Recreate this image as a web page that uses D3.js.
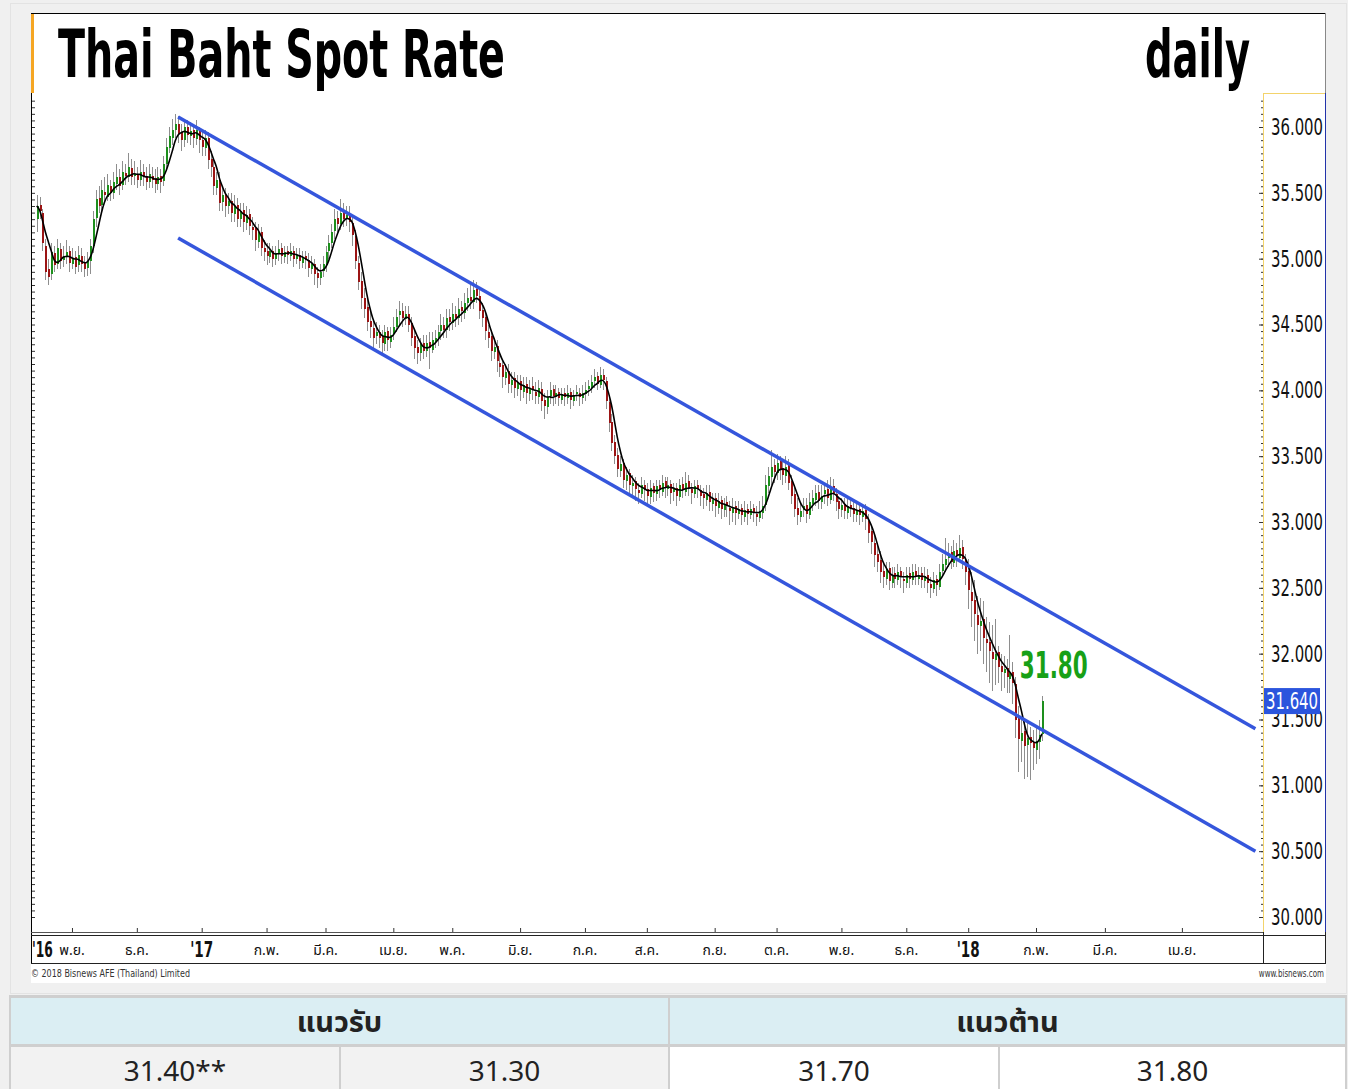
<!DOCTYPE html>
<html>
<head>
<meta charset="utf-8">
<script src="https://cdn.jsdelivr.net/npm/d3@7"></script>
<style>
  body { margin: 0; background: #f0f0f0; }
  svg { display: block; }
</style>
</head>
<body>
<svg id="chart"></svg>
<script>
// ---- data ----
const firstDay = "2016-10-14";   // first trading day shown
const lastCalendarDay = "2018-06-29";

// daily USD/THB candles, one value per trading day from firstDay
const close = [
  35.40,35.36,35.12,34.90,34.86,35.05,34.95,35.08,34.98,35.02,35.05,34.97,
  35.00,34.94,35.03,34.96,34.92,34.98,
  35.10,35.30,35.45,35.40,35.52,35.48,35.56,35.50,
  35.58,35.62,35.55,35.66,35.63,35.70,35.62,35.64,35.60,35.66,
  35.62,35.58,35.64,35.60,35.57,35.62,35.58,35.72,35.85,35.93,
  35.98,36.02,35.95,35.90,36.00,35.94,35.97,35.92,35.98,35.90,
  35.85,35.92,35.75,35.70,35.55,35.60,35.42,35.48,35.40,35.44,
  35.35,35.40,35.30,35.36,35.28,35.33,35.25,35.22,35.14,35.20,
  35.08,35.05,35.02,35.06,35.00,35.04,35.07,35.02,35.05,35.03,
  35.06,35.00,35.03,34.98,35.01,34.99,34.93,34.96,34.88,34.85,
  34.90,34.96,35.05,35.12,35.20,35.30,35.26,35.35,35.30,35.33,
  35.28,35.18,34.98,34.82,34.70,34.62,34.52,34.48,34.40,34.44,
  34.40,34.36,34.44,34.38,34.42,34.48,34.56,34.60,34.55,34.58,
  34.50,34.40,34.32,34.28,34.35,34.30,34.36,34.32,34.38,34.40,
  34.44,34.50,34.46,34.55,34.52,34.58,34.55,34.62,34.60,34.66,
  34.70,34.68,34.76,34.72,34.60,34.55,34.45,34.40,34.30,34.33,
  34.22,34.18,34.10,34.14,34.05,34.08,34.02,34.06,34.00,34.04,
  33.98,34.02,34.00,33.96,34.02,33.92,33.88,33.95,34.00,33.96,
  33.98,33.94,33.97,33.95,33.98,33.93,33.96,33.99,33.95,33.98,
  34.00,34.03,34.06,34.10,34.05,34.12,34.08,33.92,33.75,33.60,
  33.50,33.40,33.44,33.32,33.36,33.28,33.30,33.25,33.22,33.28,
  33.24,33.20,33.26,33.22,33.27,33.24,33.30,33.26,33.28,33.22,
  33.25,33.20,33.28,33.24,33.30,33.26,33.22,33.27,33.25,33.20,
  33.18,33.22,33.15,33.17,33.12,33.16,33.10,33.14,33.12,33.08,
  33.11,33.07,33.10,33.05,33.09,33.06,33.10,33.07,33.04,33.08,
  33.12,33.28,33.35,33.42,33.38,33.45,33.40,33.36,33.42,33.30,
  33.20,33.10,33.05,33.08,33.12,33.06,33.15,33.18,33.22,33.16,
  33.20,33.24,33.18,33.26,33.22,33.15,33.10,33.13,33.08,33.12,
  33.10,33.06,33.09,33.05,33.08,33.02,32.92,32.85,32.75,32.70,
  32.62,32.58,32.64,32.55,32.60,32.57,32.62,32.58,32.55,32.60,
  32.57,32.62,32.58,32.60,32.56,32.59,32.54,32.50,32.56,32.52,
  32.62,32.68,32.72,32.76,32.70,32.78,32.74,32.80,32.72,32.62,
  32.48,32.40,32.30,32.22,32.25,32.12,32.08,32.02,31.96,32.00,
  31.90,31.86,31.88,31.82,31.85,31.78,31.50,31.35,31.40,31.30,
  31.36,31.32,31.28,31.34,31.38,31.64
];
const open = [
  35.30,35.41,35.35,35.10,34.92,34.88,35.04,34.96,35.07,34.99,35.01,35.06,
  34.96,35.01,34.95,35.02,34.97,34.93,
  34.98,35.10,35.31,35.46,35.41,35.51,35.47,35.55,
  35.50,35.57,35.62,35.56,35.65,35.62,35.69,35.63,35.64,35.60,
  35.66,35.63,35.58,35.63,35.61,35.57,35.63,35.59,35.72,35.84,
  35.92,35.98,36.02,35.96,35.90,36.00,35.93,35.98,35.91,35.97,
  35.90,35.84,35.92,35.76,35.70,35.54,35.60,35.43,35.48,35.40,
  35.44,35.34,35.41,35.30,35.37,35.27,35.34,35.24,35.23,35.13,
  35.20,35.08,35.06,35.01,35.06,35.00,35.04,35.08,35.01,35.06,
  35.02,35.06,35.00,35.03,34.97,35.02,34.99,34.92,34.96,34.89,
  34.85,34.91,34.95,35.06,35.12,35.21,35.31,35.26,35.36,35.30,
  35.34,35.27,35.17,34.97,34.83,34.70,34.63,34.53,34.47,34.41,
  34.44,34.41,34.35,34.45,34.37,34.43,34.48,34.57,34.60,34.54,
  34.58,34.51,34.41,34.33,34.28,34.36,34.30,34.37,34.31,34.37,
  34.40,34.45,34.50,34.46,34.56,34.51,34.58,34.55,34.63,34.59,
  34.66,34.71,34.67,34.77,34.72,34.61,34.56,34.44,34.41,34.29,
  34.34,34.21,34.19,34.09,34.15,34.04,34.09,34.01,34.07,33.99,
  34.05,33.97,34.03,33.99,33.95,34.01,33.93,33.87,33.96,34.01,
  33.95,33.99,33.93,33.98,33.94,33.99,33.92,33.97,33.98,33.94,
  33.97,34.01,34.02,34.07,34.11,34.04,34.12,34.07,33.91,33.76,
  33.61,33.51,33.39,33.45,33.31,33.37,33.27,33.31,33.24,33.21,
  33.28,33.25,33.19,33.27,33.21,33.28,33.23,33.31,33.25,33.29,
  33.23,33.26,33.19,33.29,33.23,33.31,33.25,33.21,33.28,33.24,
  33.21,33.17,33.23,33.14,33.18,33.11,33.17,33.09,33.15,33.11,
  33.07,33.12,33.06,33.11,33.04,33.10,33.05,33.11,33.06,33.03,
  33.07,33.13,33.27,33.34,33.43,33.37,33.46,33.41,33.35,33.43,
  33.31,33.21,33.11,33.04,33.09,33.13,33.05,33.14,33.17,33.23,
  33.15,33.21,33.25,33.17,33.27,33.21,33.16,33.09,33.14,33.07,
  33.13,33.11,33.05,33.10,33.04,33.09,33.01,32.93,32.84,32.76,
  32.71,32.63,32.57,32.65,32.54,32.61,32.56,32.63,32.57,32.54,
  32.61,32.56,32.63,32.57,32.61,32.55,32.60,32.53,32.49,32.57,
  32.51,32.63,32.67,32.73,32.77,32.69,32.79,32.73,32.81,32.71,
  32.63,32.47,32.41,32.29,32.21,32.26,32.11,32.09,32.01,31.95,
  32.01,31.91,31.85,31.89,31.81,31.86,31.77,31.51,31.34,31.41,
  31.31,31.37,31.33,31.27,31.33,31.39
];
const high = [
  35.48,35.47,35.38,35.15,35.00,35.12,35.10,35.15,35.12,35.10,35.14,35.10,
  35.08,35.06,35.10,35.08,35.02,35.05,
  35.15,35.36,35.52,35.55,35.60,35.62,35.64,35.60,
  35.66,35.72,35.68,35.74,35.72,35.80,35.76,35.74,35.70,35.75,
  35.72,35.70,35.72,35.70,35.68,35.70,35.68,35.78,35.92,36.00,
  36.06,36.10,36.08,36.02,36.06,36.05,36.04,36.02,36.05,36.00,
  35.96,35.98,35.96,35.82,35.76,35.66,35.66,35.55,35.54,35.50,
  35.50,35.48,35.46,35.42,35.42,35.40,35.38,35.32,35.28,35.26,
  35.24,35.14,35.12,35.12,35.10,35.10,35.14,35.12,35.10,35.10,
  35.12,35.10,35.08,35.08,35.06,35.06,35.04,35.02,35.00,34.94,
  34.96,35.02,35.10,35.18,35.26,35.38,35.36,35.45,35.42,35.40,
  35.40,35.32,35.22,35.02,34.90,34.78,34.70,34.60,34.54,34.52,
  34.50,34.46,34.50,34.48,34.48,34.56,34.62,34.68,34.66,34.64,
  34.64,34.56,34.46,34.38,34.40,34.42,34.42,34.44,34.44,34.46,
  34.50,34.58,34.56,34.62,34.62,34.66,34.64,34.70,34.68,34.74,
  34.78,34.80,34.84,34.82,34.76,34.66,34.60,34.50,34.46,34.40,
  34.38,34.28,34.24,34.20,34.20,34.14,34.14,34.12,34.12,34.10,
  34.10,34.08,34.10,34.06,34.08,34.06,33.98,34.00,34.06,34.04,
  34.04,34.02,34.02,34.02,34.04,34.02,34.00,34.04,34.02,34.04,
  34.06,34.08,34.12,34.16,34.14,34.18,34.16,34.10,33.96,33.82,
  33.66,33.56,33.50,33.48,33.42,33.40,33.36,33.34,33.30,33.34,
  33.32,33.30,33.32,33.30,33.32,33.32,33.36,33.34,33.34,33.32,
  33.30,33.30,33.33,33.34,33.38,33.36,33.30,33.32,33.32,33.28,
  33.26,33.28,33.28,33.22,33.22,33.22,33.20,33.18,33.20,33.16,
  33.18,33.16,33.16,33.14,33.16,33.14,33.16,33.14,33.12,33.16,
  33.20,33.36,33.42,33.55,33.48,33.52,33.50,33.46,33.50,33.48,
  33.36,33.26,33.18,33.14,33.18,33.18,33.22,33.24,33.28,33.28,
  33.28,33.30,33.32,33.34,33.33,33.26,33.20,33.18,33.18,33.18,
  33.18,33.16,33.14,33.14,33.14,33.14,33.06,32.98,32.90,32.82,
  32.78,32.68,32.70,32.70,32.66,32.66,32.68,32.66,32.62,32.66,
  32.66,32.68,32.68,32.66,32.66,32.66,32.64,32.58,32.62,32.60,
  32.68,32.76,32.88,32.84,32.82,32.86,32.84,32.90,32.86,32.76,
  32.72,32.62,32.56,32.44,32.42,32.40,32.28,32.24,32.22,32.26,
  32.06,32.00,31.98,31.96,32.14,31.94,31.82,31.60,31.52,31.50,
  31.48,31.44,31.42,31.46,31.50,31.68
];
const low = [
  35.20,35.30,35.06,34.84,34.80,34.84,34.90,34.92,34.92,34.94,34.96,34.90,
  34.92,34.88,34.90,34.90,34.86,34.87,
  34.88,35.04,35.24,35.35,35.36,35.42,35.44,35.44,
  35.45,35.52,35.48,35.52,35.56,35.58,35.56,35.56,35.54,35.55,
  35.55,35.52,35.54,35.54,35.50,35.52,35.50,35.55,35.68,35.80,
  35.86,35.92,35.88,35.82,35.85,35.88,35.86,35.84,35.86,35.80,
  35.78,35.78,35.68,35.62,35.48,35.48,35.36,35.36,35.32,35.34,
  35.28,35.28,35.24,35.24,35.20,35.22,35.18,35.14,35.06,35.08,
  35.02,34.98,34.95,34.97,34.94,34.95,34.98,34.96,34.97,34.96,
  34.98,34.94,34.96,34.92,34.93,34.92,34.86,34.88,34.80,34.78,
  34.80,34.86,34.90,35.00,35.08,35.15,35.20,35.22,35.24,35.25,
  35.20,35.10,34.92,34.76,34.62,34.55,34.45,34.40,34.32,34.35,
  34.32,34.28,34.30,34.30,34.32,34.38,34.44,34.50,34.48,34.50,
  34.44,34.34,34.24,34.20,34.22,34.24,34.25,34.16,34.28,34.32,
  34.34,34.38,34.40,34.40,34.45,34.46,34.48,34.50,34.52,34.54,
  34.60,34.62,34.62,34.66,34.54,34.48,34.38,34.32,34.22,34.24,
  34.14,34.10,34.02,34.04,33.98,33.98,33.94,33.96,33.92,33.94,
  33.90,33.92,33.93,33.90,33.90,33.84,33.78,33.82,33.90,33.88,
  33.90,33.88,33.90,33.88,33.90,33.86,33.88,33.92,33.88,33.90,
  33.92,33.96,33.98,34.02,34.00,34.02,34.00,33.86,33.68,33.54,
  33.44,33.34,33.34,33.26,33.24,33.20,33.20,33.16,33.14,33.18,
  33.16,33.12,33.14,33.15,33.16,33.18,33.20,33.18,33.20,33.14,
  33.16,33.12,33.16,33.18,33.20,33.20,33.14,33.18,33.18,33.12,
  33.10,33.12,33.08,33.08,33.04,33.06,33.02,33.04,33.04,32.98,
  33.00,32.98,33.02,32.98,33.00,32.98,33.02,33.00,32.97,33.00,
  33.02,33.08,33.22,33.28,33.30,33.32,33.32,33.28,33.30,33.24,
  33.14,33.04,32.98,33.00,33.04,32.99,33.02,33.08,33.12,33.10,
  33.10,33.14,33.12,33.14,33.16,33.08,33.02,33.04,33.02,33.02,
  33.04,33.00,33.00,32.98,33.00,32.94,32.84,32.76,32.66,32.62,
  32.54,32.50,32.52,32.48,32.50,32.50,32.52,32.50,32.46,32.50,
  32.50,32.52,32.52,32.52,32.50,32.50,32.46,32.42,32.46,32.44,
  32.48,32.58,32.62,32.66,32.64,32.66,32.66,32.70,32.64,32.52,
  32.34,32.20,32.10,32.00,32.02,31.92,31.86,31.78,31.72,31.76,
  31.78,31.72,31.74,31.70,31.70,31.62,31.36,31.10,31.18,31.05,
  31.06,31.04,31.12,31.16,31.20,31.34
];

const lastPrice = 31.640;
const targetLabel = "31.80";

// trend channel drawn on the chart
const channelDates = ["2016-12-21", "2018-05-01"];
const upperChannel = [36.076, 31.43];
const lowerChannel = [35.157, 30.50];

const yTicks = [30, 30.5, 31, 31.5, 32, 32.5, 33, 33.5, 34, 34.5, 35, 35.5, 36];

const monthDates = ["2016-11-01", "2016-12-01", "2017-01-02", "2017-02-01", "2017-03-01", "2017-04-03",
  "2017-05-01", "2017-06-01", "2017-07-03", "2017-08-01", "2017-09-01", "2017-10-02", "2017-11-01",
  "2017-12-01", "2018-01-01", "2018-02-01", "2018-03-01", "2018-04-02"];
const monthLabels = ["พ.ย.", "ธ.ค.", "'17", "ก.พ.", "มี.ค.", "เม.ย.", "พ.ค.", "มิ.ย.", "ก.ค.", "ส.ค.",
  "ก.ย.", "ต.ค.", "พ.ย.", "ธ.ค.", "'18", "ก.พ.", "มี.ค.", "เม.ย."];
const firstYearLabel = "'16";

const tableHeaders = ["แนวรับ", "แนวต้าน"];
const supportLevels = ["31.40**", "31.30"];
const resistanceLevels = ["31.70", "31.80"];

// ---- layout ----
const width = 1348, height = 1089;
const plot = { left: 31, right: 1263, top: 93, bottom: 932 };
const narrow = "'Liberation Sans Narrow', 'Arial Narrow', 'DejaVu Sans Condensed', 'Liberation Sans', sans-serif";
const thai = "Tahoma, 'Noto Sans Thai', 'Noto Sans', 'DejaVu Sans', sans-serif";

const svg = d3.select("#chart").attr("width", width).attr("height", height);

// trading days (weekdays) used for the x positions
const tradingDays = [];
for (let d = new Date(firstDay + "T00:00:00Z"); d <= new Date(lastCalendarDay + "T00:00:00Z"); d.setUTCDate(d.getUTCDate() + 1)) {
  const wd = d.getUTCDay();
  if (wd !== 0 && wd !== 6) tradingDays.push(d.toISOString().slice(0, 10));
}
const dayIndex = new Map(tradingDays.map((d, i) => [d, i]));
const lastBar = close.length - 1;

// bars are evenly spaced; the future part of the axis is spaced wider, like the original
const x = d3.scaleLinear()
  .domain([0, lastBar, tradingDays.length - 1])
  .range([36.6, 1041.9, 1041.9 + 3.5 * (tradingDays.length - 1 - lastBar)]);

const y = d3.scaleLinear().domain([30, 36]).range([917, 127]);

// ---- background and frames ----
svg.append("rect").attr("width", width).attr("height", height).attr("fill", "#f0f0f0");
svg.append("rect").attr("x", 10.5).attr("y", 3.5).attr("width", 1336).attr("height", 990)
  .attr("fill", "none").attr("stroke", "#e3e3e3");
svg.append("rect").attr("x", 31).attr("y", 13).attr("width", 1295).attr("height", 970).attr("fill", "#fff");

// top frame line and orange accent
svg.append("line").attr("x1", 31).attr("x2", 1326).attr("y1", 13.5).attr("y2", 13.5).attr("stroke", "#000");
svg.append("line").attr("x1", 1325.5).attr("x2", 1325.5).attr("y1", 13).attr("y2", 93).attr("stroke", "#888");
svg.append("rect").attr("x", 31).attr("y", 14).attr("width", 3).attr("height", 79).attr("fill", "#f5a623");

// left axis line
svg.append("line").attr("x1", 31.5).attr("x2", 31.5).attr("y1", 93).attr("y2", 963).attr("stroke", "#000");

// right value axis panel
svg.append("line").attr("x1", 1263.5).attr("x2", 1325).attr("y1", 93.5).attr("y2", 93.5).attr("stroke", "#f3d36b");
svg.append("line").attr("x1", 1263.5).attr("x2", 1263.5).attr("y1", 93).attr("y2", 932).attr("stroke", "#f3d36b");
svg.append("line").attr("x1", 1325.5).attr("x2", 1325.5).attr("y1", 93).attr("y2", 932).attr("stroke", "#2233aa");

// bottom date band
svg.append("line").attr("x1", 31).attr("x2", 1263).attr("y1", 932.5).attr("y2", 932.5).attr("stroke", "#555");
svg.append("line").attr("x1", 31).attr("x2", 1326).attr("y1", 935.5).attr("y2", 935.5).attr("stroke", "#222");
svg.append("line").attr("x1", 31).attr("x2", 1326).attr("y1", 963.5).attr("y2", 963.5).attr("stroke", "#222");
svg.append("line").attr("x1", 1263.5).attr("x2", 1263.5).attr("y1", 932).attr("y2", 963).attr("stroke", "#222");
svg.append("line").attr("x1", 1325.5).attr("x2", 1325.5).attr("y1", 932).attr("y2", 963).attr("stroke", "#222");

// ---- titles ----
svg.append("text").attr("x", 58).attr("y", 77)
  .attr("font-family", narrow).attr("font-weight", "bold").attr("font-size", 66)
  .attr("textLength", 447).attr("lengthAdjust", "spacingAndGlyphs")
  .text("Thai Baht Spot Rate");
svg.append("text").attr("x", 1145).attr("y", 77)
  .attr("font-family", narrow).attr("font-weight", "bold").attr("font-size", 66)
  .attr("textLength", 105).attr("lengthAdjust", "spacingAndGlyphs")
  .text("daily");

// ---- value axis ----
const minorHalf = d3.range(600, 725).map(v => v / 20).filter(v => y(v) >= plot.top + 1);

svg.append("g")
  .attr("transform", `translate(${plot.right},0)`)
  .call(d3.axisLeft(y).tickValues(minorHalf).tickSize(2).tickFormat(""))
  .call(g => g.select(".domain").remove())
  .call(g => g.selectAll("line").attr("stroke", "#333"));

svg.append("g")
  .attr("transform", `translate(${plot.left + 1},0)`)
  .call(d3.axisRight(y).tickValues(minorHalf).tickSize(3).tickFormat(""))
  .call(g => g.select(".domain").remove())
  .call(g => g.selectAll("line").attr("stroke", "#333"));

svg.append("g")
  .attr("transform", `translate(${plot.right},0)`)
  .call(d3.axisLeft(y).tickValues(yTicks).tickSize(4).tickFormat(""))
  .call(g => g.select(".domain").remove())
  .call(g => g.selectAll("line").attr("stroke", "#333"));

svg.append("g")
  .attr("transform", `translate(${plot.right},0)`)
  .call(d3.axisRight(y).tickValues(yTicks).tickSize(0).tickPadding(8).tickFormat(d3.format(".3f")))
  .call(g => g.select(".domain").remove())
  .call(g => g.selectAll("text")
    .attr("font-family", narrow).attr("font-size", 23).attr("fill", "#111")
    .attr("textLength", 52).attr("lengthAdjust", "spacingAndGlyphs"));

// ---- date axis ----
const monthIdx = monthDates.map(d => dayIndex.get(d));
svg.append("g")
  .attr("transform", `translate(0,${plot.bottom})`)
  .call(d3.axisTop(x).tickValues(monthIdx).tickSize(4).tickFormat(""))
  .call(g => g.select(".domain").remove())
  .call(g => g.selectAll("line").attr("stroke", "#333"));

const isYear = s => s.startsWith("'");
const dateLabels = svg.append("g");
dateLabels.selectAll("text")
  .data(monthIdx.map((i, k) => ({ i, label: monthLabels[k] })))
  .join("text")
  .attr("x", d => x(d.i))
  .attr("y", d => isYear(d.label) ? 957 : 955)
  .attr("text-anchor", "middle")
  .attr("font-family", d => isYear(d.label) ? narrow : thai)
  .attr("font-weight", d => isYear(d.label) ? "bold" : "normal")
  .attr("font-size", d => isYear(d.label) ? 22 : 14)
  .attr("fill", "#111")
  .each(function (d) {
    if (isYear(d.label)) d3.select(this).attr("textLength", 23).attr("lengthAdjust", "spacingAndGlyphs");
  })
  .text(d => d.label);

// year of the first bars, squeezed to fit before the first month label
svg.append("text")
  .attr("transform", "translate(32,957) scale(0.62,1)")
  .attr("font-family", narrow).attr("font-weight", "bold").attr("font-size", 22).attr("fill", "#111")
  .text(firstYearLabel);

// ---- candles ----
const candles = close.map((c, i) => ({ i, o: open[i], h: high[i], l: low[i], c }));
const cg = svg.append("g").attr("shape-rendering", "crispEdges");

cg.selectAll("line.wick").data(candles).join("line")
  .attr("class", "wick")
  .attr("x1", d => Math.round(x(d.i)) + 0.5)
  .attr("x2", d => Math.round(x(d.i)) + 0.5)
  .attr("y1", d => y(d.h))
  .attr("y2", d => y(d.l))
  .attr("stroke", "#8e8e8e");

cg.selectAll("rect.body").data(candles).join("rect")
  .attr("class", "body")
  .attr("x", d => Math.round(x(d.i)))
  .attr("width", 2)
  .attr("y", d => y(Math.max(d.o, d.c)))
  .attr("height", d => Math.max(1, Math.abs(y(d.o) - y(d.c))))
  .attr("fill", d => d.c >= d.o ? "#1d8f1d" : "#9b1414");

// 5-day moving average of the closes
const ma = close.map((c, i) => ({ i, v: d3.mean(close.slice(Math.max(0, i - 4), i + 1)) }));
svg.append("path")
  .datum(ma)
  .attr("fill", "none")
  .attr("stroke", "#000")
  .attr("stroke-width", 1.6)
  .attr("d", d3.line().x(d => x(d.i)).y(d => y(d.v)).curve(d3.curveBasis));

// ---- trend channel ----
const chIdx = channelDates.map(d => dayIndex.get(d));
[upperChannel, lowerChannel].forEach(vals => {
  svg.append("line")
    .attr("x1", x(chIdx[0])).attr("y1", y(vals[0]))
    .attr("x2", x(chIdx[1])).attr("y2", y(vals[1]))
    .attr("stroke", "#3556dc")
    .attr("stroke-width", 3.5);
});

// target annotation
svg.append("text")
  .attr("x", x(lastBar - 7.5)).attr("y", 678)
  .attr("font-family", narrow).attr("font-weight", "bold").attr("font-size", 38)
  .attr("fill", "#17a017")
  .attr("textLength", 68).attr("lengthAdjust", "spacingAndGlyphs")
  .text(targetLabel);

// last price marker on the value axis
svg.append("rect")
  .attr("x", plot.right + 1).attr("y", y(lastPrice) - 13)
  .attr("width", 56).attr("height", 26)
  .attr("fill", "#2b55dd");
svg.append("text")
  .attr("x", plot.right + 3).attr("y", y(lastPrice) + 8)
  .attr("font-family", narrow).attr("font-size", 23).attr("fill", "#fff")
  .attr("textLength", 52).attr("lengthAdjust", "spacingAndGlyphs")
  .text(d3.format(".3f")(lastPrice));

// ---- footer ----
svg.append("text").attr("x", 31).attr("y", 977)
  .attr("font-family", narrow).attr("font-size", 11).attr("fill", "#333")
  .attr("textLength", 159).attr("lengthAdjust", "spacingAndGlyphs")
  .text("© 2018 Bisnews AFE (Thailand) Limited");
svg.append("text")
  .attr("transform", "translate(1324,977) scale(0.72,1)")
  .attr("text-anchor", "end")
  .attr("font-family", narrow).attr("font-size", 11).attr("fill", "#333")
  .text("www.bisnews.com");

// ---- support / resistance table ----
const table = svg.append("g").attr("font-family", thai);
table.append("rect").attr("x", 9).attr("y", 995).attr("width", 1338).attr("height", 94).attr("fill", "#cfcfcf");
const headerCells = [{ x: 11, w: 657, t: tableHeaders[0] }, { x: 670, w: 675, t: tableHeaders[1] }];
table.selectAll("rect.hdr").data(headerCells).join("rect")
  .attr("class", "hdr")
  .attr("x", d => d.x).attr("y", 998).attr("width", d => d.w).attr("height", 46)
  .attr("fill", "#dbeef3");
table.selectAll("text.hdr").data(headerCells).join("text")
  .attr("class", "hdr")
  .attr("x", d => d.x + d.w / 2).attr("y", 1032)
  .attr("text-anchor", "middle").attr("font-weight", "bold").attr("font-size", 29).attr("fill", "#222")
  .text(d => d.t);

const valueCells = [
  { x: 11, w: 328, t: supportLevels[0], bg: "#f2f2f2" },
  { x: 341, w: 327, t: supportLevels[1], bg: "#f2f2f2" },
  { x: 670, w: 328, t: resistanceLevels[0], bg: "#ffffff" },
  { x: 1000, w: 345, t: resistanceLevels[1], bg: "#ffffff" }
];
table.selectAll("rect.val").data(valueCells).join("rect")
  .attr("class", "val")
  .attr("x", d => d.x).attr("y", 1047).attr("width", d => d.w).attr("height", 42)
  .attr("fill", d => d.bg);
table.selectAll("text.val").data(valueCells).join("text")
  .attr("class", "val")
  .attr("x", d => d.x + d.w / 2).attr("y", 1081)
  .attr("text-anchor", "middle").attr("font-family", "'Noto Sans', sans-serif").attr("font-size", 28).attr("fill", "#222")
  .text(d => d.t);
</script>
</body>
</html>
